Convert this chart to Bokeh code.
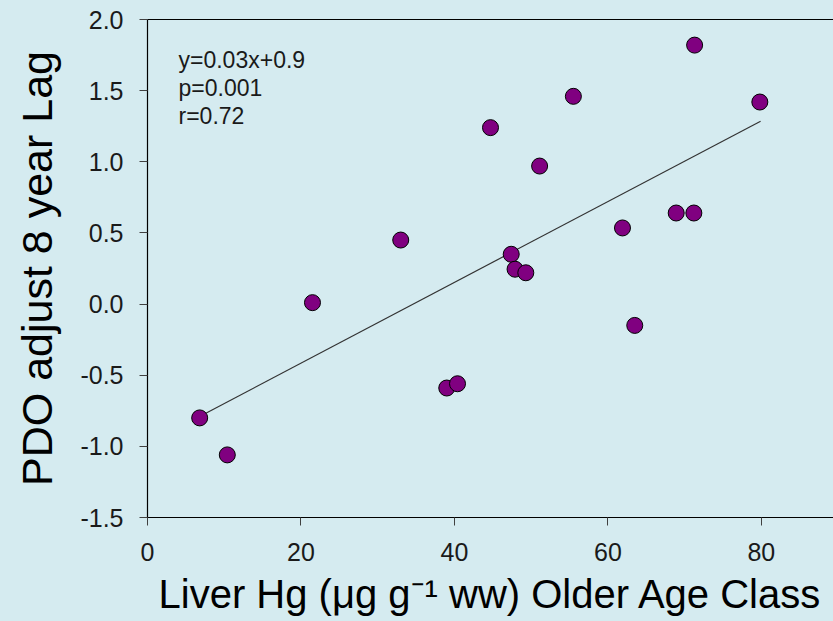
from bokeh.plotting import figure
from bokeh.models import Range1d, FixedTicker, NumeralTickFormatter, LinearAxis, Label, GlobalInlineStyleSheet
from bokeh.embed import file_html
from bokeh.resources import INLINE

# ---- data ----
hg = [6.8, 10.4, 21.5, 33.0, 39.0, 40.4, 44.7, 47.4, 47.9, 49.3, 51.1, 55.5, 61.9, 63.5, 68.9, 71.2, 71.3, 79.8]
pdo = [-0.80, -1.06, 0.01, 0.45, -0.59, -0.56, 1.24, 0.35, 0.245, 0.22, 0.97, 1.46, 0.535, -0.15, 0.64, 0.64, 1.82, 1.42]
fit_x = [6.8, 79.9]
fit_y = [-0.79, 1.285]
x_ticks = [0, 20, 40, 60, 80]
y_ticks = [-1.5, -1.0, -0.5, 0.0, 0.5, 1.0, 1.5, 2.0]
stats = ["y=0.03x+0.9", "p=0.001", "r=0.72"]
x_title = "Liver Hg (\u03bcg g\u207b\u00b9 ww) Older Age Class"
y_title = "PDO adjust 8 year Lag"

BG = "#d5ebf0"
FONT = "Liberation Sans"

p = figure(width=833, height=621, output_backend="svg", toolbar_location=None,
           x_range=Range1d(0, 89.4), y_range=Range1d(-1.5, 2.0),
           min_border_left=147, min_border_right=0, min_border_top=19, min_border_bottom=104,
           background_fill_color=BG, border_fill_color=BG, outline_line_color=None)
p.grid.visible = False

for ax in (p.xaxis[0], p.yaxis[0]):
    ax.axis_line_color = "black"
    ax.axis_line_width = 1.2
    ax.major_tick_line_color = "#404040"
    ax.major_tick_out = 8
    ax.major_tick_in = 0
    ax.minor_tick_line_color = None
    ax.major_label_text_font = FONT
    ax.major_label_text_font_size = "25px"
    ax.major_label_text_color = "#1a1a1a"
    ax.axis_label_text_font = FONT
    ax.axis_label_text_font_style = "normal"
    ax.axis_label_text_color = "black"

p.xaxis.ticker = FixedTicker(ticks=x_ticks)
p.yaxis.ticker = FixedTicker(ticks=y_ticks)
p.yaxis.formatter = NumeralTickFormatter(format="0.0")
p.xaxis.major_label_standoff = 17
p.yaxis.major_label_standoff = 16
p.xaxis.axis_label = x_title
p.yaxis.axis_label = y_title
p.xaxis.axis_label_text_font_size = "40px"
p.yaxis.axis_label_text_font_size = "43px"
p.xaxis.axis_label_standoff = 8
p.yaxis.axis_label_standoff = 16

top = LinearAxis(ticker=FixedTicker(ticks=[]), major_tick_out=0, major_tick_in=0,
                 minor_tick_out=0, minor_tick_in=0, major_label_text_font_size="0px",
                 major_label_standoff=0, axis_line_color="black", axis_line_width=1.2)
p.add_layout(top, "above")

p.line(fit_x, fit_y, line_color="#333333", line_width=1.2)
p.scatter(hg, pdo, size=16, fill_color="#800080", line_color="black", line_width=1)

baselines = [458.0, 430.0, 401.5]
for txt, yb in zip(stats, baselines):
    p.add_layout(Label(x=31, y=yb, x_units="screen", y_units="screen", text=txt,
                       text_font=FONT, text_font_size="23px", text_color="#1a1a1a",
                       text_baseline="alphabetic", text_align="left"))

p.stylesheets = [GlobalInlineStyleSheet(css="body { background: %s; }" % BG)]

open("out.html", "w").write(file_html(p, INLINE))
